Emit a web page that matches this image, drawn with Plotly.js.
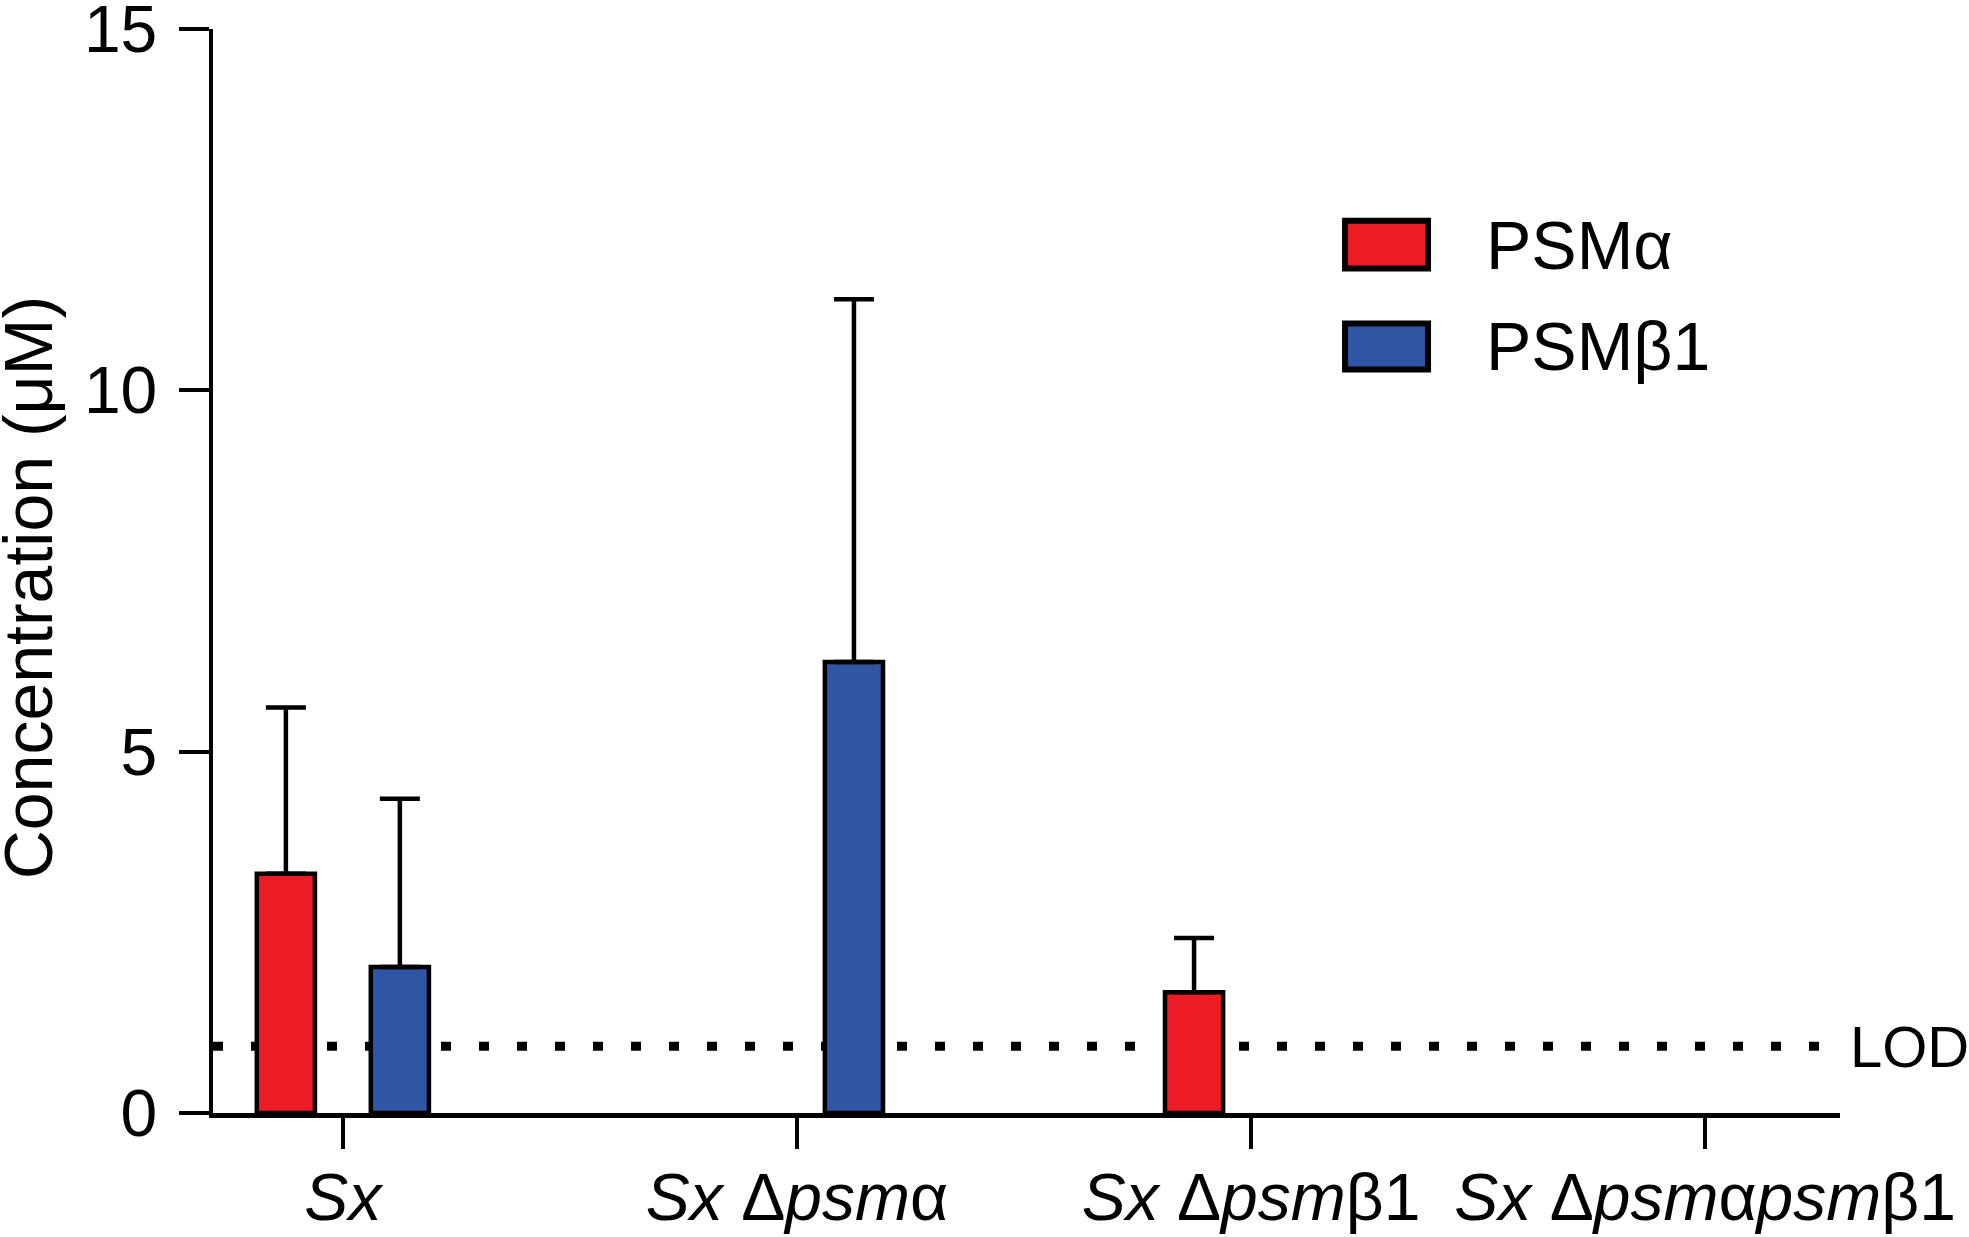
<!DOCTYPE html>
<html>
<head>
<meta charset="utf-8">
<script src="https://cdn.plot.ly/plotly-3.0.1.min.js"></script>
<style>
  html, body { margin: 0; padding: 0; background: #fff; }
  #chart { width: 1969px; height: 1237px; }
</style>
</head>
<body>
<div id="chart"></div>
<script>
// strains on the x axis
const strains = [
  '<i>Sx</i>',
  '<i>Sx</i> Δ<i>psm</i>α',
  '<i>Sx</i> Δ<i>psm</i>β1',
  '<i>Sx</i> Δ<i>psm</i>α<i>psm</i>β1',
];

// mean concentration (µM), null = not detected
const psmAlpha = [3.31, null, 1.67, null];
const psmBeta1 = [2.02, 6.24, null, null];

// upper error (SD) above the mean
const psmAlphaErr = [2.30, null, 0.75, null];
const psmBeta1Err = [2.33, 5.02, null, null];

const seriesNames = ['PSMα', 'PSMβ1'];
const seriesColors = ['#ed1c24', '#2f55a4'];

const lod = 0.925;
const yTicks = [0, 5, 10, 15];

const FONT = 'Liberation Sans, Arial, Helvetica, sans-serif';
const xs = strains.map((_, i) => i);

const BAR_W = 0.128;
const SHIFT = 0.1255;

function barTrace(name, color, ys, errs, shift) {
  return {
    type: 'bar',
    name,
    x: xs,
    y: ys,
    width: BAR_W,
    offset: shift - BAR_W / 2,
    marker: {color, line: {color: '#000', width: 4.5}},
    error_y: {
      type: 'data',
      symmetric: false,
      array: errs,
      arrayminus: errs.map(() => 0),
      color: '#000',
      thickness: 4.5,
      width: 20,
    },
    showlegend: false,
    hoverinfo: 'skip',
  };
}

const data = [
  barTrace(seriesNames[0], seriesColors[0], psmAlpha, psmAlphaErr, -SHIFT),
  barTrace(seriesNames[1], seriesColors[1], psmBeta1, psmBeta1Err, SHIFT),
];

// hand-made legend: big boxes like the original figure
const legendBoxes = [[0.8232, 0.779], [0.7284, 0.686]];
const shapes = [{
  type: 'line',
  xref: 'paper', yref: 'y',
  x0: 0, x1: 0.989, y0: lod, y1: lod,
  line: {color: '#000', width: 9, dash: '10px,28px'},
  layer: 'below',
}];
const annotations = [];

seriesNames.forEach((name, i) => {
  const [yTop, yBot] = legendBoxes[i];
  shapes.push({
    type: 'rect',
    xref: 'paper', yref: 'paper',
    x0: 0.6958, x1: 0.7468, y0: yBot, y1: yTop,
    fillcolor: seriesColors[i],
    line: {color: '#000', width: 6},
  });
  annotations.push({
    xref: 'paper', yref: 'paper',
    x: 0.781, y: (yTop + yBot) / 2,
    xanchor: 'left', yanchor: 'middle',
    text: name,
    showarrow: false,
    font: {family: FONT, size: 68, color: '#000'},
  });
});

annotations.push({
  xref: 'paper', yref: 'y',
  x: 1.0, y: lod,
  xanchor: 'left', yanchor: 'middle',
  xshift: 8,
  text: 'LOD',
  showarrow: false,
  font: {family: FONT, size: 58, color: '#000'},
});

annotations.push({
  xref: 'paper', yref: 'paper',
  x: -0.1137, y: 0.484,
  xanchor: 'center', yanchor: 'middle',
  textangle: -90,
  text: 'Concentration (μM)',
  showarrow: false,
  font: {family: FONT, size: 68, color: '#000'},
});

const layout = {
  width: 1969,
  height: 1237,
  margin: {l: 213, r: 129, t: 29, b: 124},
  paper_bgcolor: '#fff',
  plot_bgcolor: '#fff',
  barmode: 'overlay',
  showlegend: false,
  font: {family: FONT, color: '#000'},
  xaxis: {
    range: [-0.286, 3.297],
    tickmode: 'array',
    tickvals: xs,
    ticktext: strains,
    ticks: 'outside',
    ticklen: 31,
    tickwidth: 4,
    tickcolor: '#000',
    showline: true,
    linewidth: 4.5,
    linecolor: '#000',
    showgrid: false,
    zeroline: false,
    ticklabeloverflow: 'allow',
    ticklabelstandoff: -8,
    tickfont: {family: FONT, size: 66, color: '#000'},
    fixedrange: true,
  },
  yaxis: {
    range: [0, 15],
    tickmode: 'array',
    tickvals: yTicks,
    ticks: 'outside',
    ticklen: 30,
    tickwidth: 4,
    tickcolor: '#000',
    showline: true,
    linewidth: 4.5,
    linecolor: '#000',
    showgrid: false,
    zeroline: false,
    ticklabeloverflow: 'allow',
    ticklabelstandoff: 8,
    tickfont: {family: FONT, size: 66, color: '#000'},
    fixedrange: true,
  },
  shapes,
  annotations,
};

Plotly.newPlot('chart', data, layout, {displayModeBar: false, staticPlot: true});
</script>
</body>
</html>
